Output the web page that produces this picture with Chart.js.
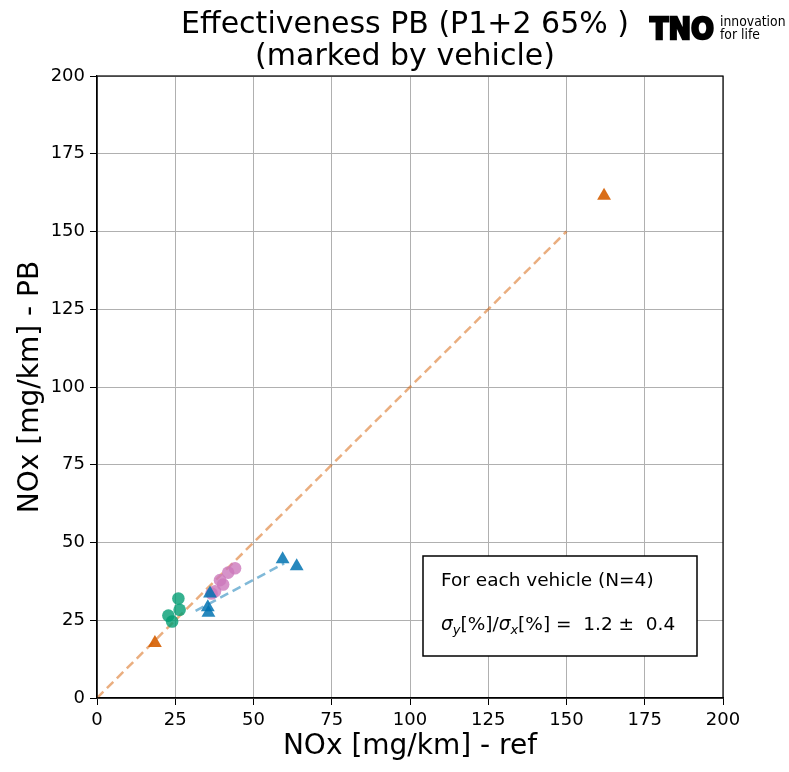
<!DOCTYPE html>
<html lang="en">
<head>
    <meta charset="UTF-8">
    <title>Effectiveness PB</title>
    <script src="https://cdn.jsdelivr.net/npm/chart.js"></script>
    <style>
        body {
            margin: 0;
            background: #fff;
        }
        .chart-box {
            width: 789px;
            height: 772px;
            position: relative;
        }
    </style>
</head>
<body>
<div class="chart-box">
    <canvas id="grafico" width="789" height="772"></canvas>
</div>
<script>
    // values, [NOx ref, NOx PB] in mg/km
    const orangeVehicle = [[18.5, 17.7], [162, 161.5]];
    const blueVehicle = [[35.6, 27.4], [35.4, 29.2], [36.1, 33.6], [59.3, 44.6], [63.8, 42.4]];
    const greenVehicle = [[26.0, 32.0], [26.4, 28.4], [22.8, 26.5], [24.0, 24.6]];
    const pinkVehicle = [[44.1, 41.7], [41.9, 40.3], [39.3, 37.9], [40.3, 36.5], [37.7, 34.3], [36.6, 33.6]];
    const orangeFit = [[0, 0], [150, 150]];
    const blueFit = [[31.5, 28.0], [59.8, 43.3]];
    const axisTicks = [0, 25, 50, 75, 100, 125, 150, 175, 200];
    const titleLines = ['Effectiveness PB (P1+2 65% )', '(marked by vehicle)'];
    const xTitle = 'NOx [mg/km] - ref';
    const yTitle = 'NOx [mg/km] - PB';
    const boxLine1 = 'For each vehicle (N=4)';
    const ratioMean = '1.2';
    const ratioStd = '0.4';

    const FONT = "'DejaVu Sans', sans-serif";

    function pts(arr) {
        return arr.map(p => ({ x: p[0], y: p[1] }));
    }

    function scatterSet(label, arr, color, style, radius) {
        return {
            type: 'scatter',
            label: label,
            data: pts(arr),
            backgroundColor: color,
            borderColor: color,
            borderWidth: 0,
            pointStyle: style,
            pointRadius: radius,
            pointHoverRadius: radius,
            order: 1
        };
    }

    function lineSet(label, arr, color) {
        return {
            type: 'line',
            label: label,
            data: pts(arr),
            borderColor: color,
            borderWidth: 2.5,
            borderDash: [9, 5],
            pointRadius: 0,
            fill: false,
            order: 2
        };
    }

    // texts drawn on the canvas: title, frame, text box, logo
    const extras = {
        id: 'extras',
        afterDraw(chart) {
            const ctx = chart.ctx;
            const a = chart.chartArea;
            ctx.save();

            // frame
            ctx.strokeStyle = '#000';
            ctx.lineWidth = 1.2;
            ctx.strokeRect(a.left, a.top, a.right - a.left, a.bottom - a.top);

            // title
            ctx.fillStyle = '#000';
            ctx.textAlign = 'center';
            ctx.textBaseline = 'alphabetic';
            ctx.font = '30px ' + FONT;
            ctx.fillText(titleLines[0], 405, 33);
            ctx.fillText(titleLines[1], 405, 65);

            // text box
            const bx = 423, by = 556, bw = 274, bh = 100;
            ctx.fillStyle = '#fff';
            ctx.fillRect(bx, by, bw, bh);
            ctx.strokeStyle = '#000';
            ctx.lineWidth = 1.5;
            ctx.strokeRect(bx, by, bw, bh);
            ctx.fillStyle = '#000';
            ctx.textAlign = 'left';
            ctx.font = '18.5px ' + FONT;
            ctx.fillText(boxLine1, 441, 586);

            let x = 441;
            const base = 630;
            const parts = [
                ['σ', 'italic 18.5px ' + FONT, 0],
                ['y', 'italic 13px ' + FONT, 4],
                ['[%]/', '18.5px ' + FONT, 0],
                ['σ', 'italic 18.5px ' + FONT, 0],
                ['x', 'italic 13px ' + FONT, 4],
                ['[%] =  ' + ratioMean + ' ±  ' + ratioStd, '18.5px ' + FONT, 0]
            ];
            parts.forEach(p => {
                ctx.font = p[1];
                ctx.fillText(p[0], x, base + p[2]);
                x += ctx.measureText(p[0]).width;
            });

            // TNO logo
            ctx.font = 'bold 30px ' + FONT;
            ctx.lineWidth = 2.5;
            ctx.strokeStyle = '#000';
            ctx.save();
            ctx.translate(650, 39);
            ctx.scale(0.9, 1);
            ctx.fillText('TNO', 0, 0);
            ctx.strokeText('TNO', 0, 0);
            ctx.restore();
            ctx.save();
            ctx.translate(720, 26);
            ctx.scale(0.92, 1.05);
            ctx.font = '13.5px ' + FONT;
            ctx.fillText('innovation', 0, 0);
            ctx.fillText('for life', 0, 12.5);
            ctx.restore();

            ctx.restore();
        }
    };

    const ctx = document.getElementById('grafico');
    new Chart(ctx, {
        data: {
            datasets: [
                scatterSet('vehicle 1', orangeVehicle, 'rgba(213,94,0,0.9)', 'triangle', 8),
                scatterSet('vehicle 2', blueVehicle, 'rgba(1,115,178,0.85)', 'triangle', 8),
                scatterSet('vehicle 3', greenVehicle, 'rgba(2,158,115,0.8)', 'circle', 6.3),
                scatterSet('vehicle 4', pinkVehicle, 'rgba(204,120,188,0.8)', 'circle', 6.3),
                lineSet('fit 1', orangeFit, 'rgba(213,94,0,0.5)'),
                lineSet('fit 2', blueFit, 'rgba(1,115,178,0.5)')
            ]
        },
        options: {
            responsive: false,
            animation: false,
            layout: { padding: { left: 0, top: 76, right: 66, bottom: 0 } },
            plugins: {
                legend: { display: false },
                tooltip: { enabled: false }
            },
            scales: {
                x: {
                    type: 'linear',
                    min: 0,
                    max: 200,
                    afterBuildTicks: s => { s.ticks = axisTicks.map(v => ({ value: v })); },
                    afterFit: s => { s.height = 74; },
                    grid: { color: '#b0b0b0', lineWidth: 1, tickColor: '#000', tickLength: 7 },
                    border: { color: '#000', width: 1.2 },
                    ticks: { color: '#000', padding: 5, font: { family: FONT, size: 18 } },
                    title: {
                        display: true,
                        text: xTitle,
                        color: '#000',
                        font: { family: FONT, size: 28 },
                        padding: { top: 0, bottom: 8 }
                    }
                },
                y: {
                    type: 'linear',
                    min: 0,
                    max: 200,
                    afterBuildTicks: s => { s.ticks = axisTicks.map(v => ({ value: v })); },
                    afterFit: s => { s.width = 97; },
                    grid: { color: '#b0b0b0', lineWidth: 1, tickColor: '#000', tickLength: 7 },
                    border: { color: '#000', width: 1.2 },
                    ticks: { color: '#000', padding: 5, font: { family: FONT, size: 18 } },
                    title: {
                        display: true,
                        text: yTitle,
                        color: '#000',
                        font: { family: FONT, size: 28 },
                        padding: { top: 14, bottom: 0 }
                    }
                }
            }
        },
        plugins: [extras]
    });
</script>
</body>
</html>
